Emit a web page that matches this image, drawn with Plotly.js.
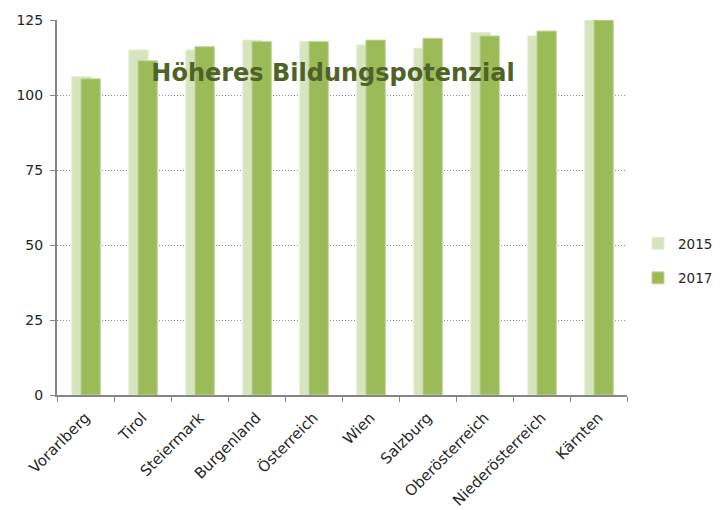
<!DOCTYPE html>
<html>
<head>
<meta charset="utf-8">
<script src="https://cdn.plot.ly/plotly-3.0.1.min.js"></script>
<style>html,body{margin:0;padding:0;background:#fff;}#chart{width:720px;height:510px;}</style>
</head>
<body>
<div id="chart"></div>
<script>
const categories = ["Vorarlberg", "Tirol", "Steiermark", "Burgenland", "Österreich", "Wien", "Salzburg", "Oberösterreich", "Niederösterreich", "Kärnten"];
const values2015 = [106.1, 115.0, 115.0, 118.3, 117.8, 116.7, 115.6, 120.8, 119.7, 125.0];
const values2017 = [105.4, 111.4, 116.1, 117.8, 117.8, 118.3, 118.9, 119.7, 121.3, 125.0];
const seriesNames = ["2015", "2017"];
const yTicks = [0, 25, 50, 75, 100, 125];
const chartTitle = "Höheres Bildungspotenzial";

const fontFamily = "DejaVu Sans, sans-serif";

const traces = [
  {
    type: "bar", name: seriesNames[0], x: categories, y: values2015,
    width: 0.34, offset: -0.24, legendgroup: "a",
    marker: {color: "#d7e4bd", line: {color: "#e4edd2", width: 1}},
    hoverinfo: "x+y+name"
  },
  {
    type: "bar", name: seriesNames[1], x: categories, y: values2017,
    width: 0.34, offset: -0.08, legendgroup: "b",
    marker: {color: "#9bbb59", line: {color: "#c3d69b", width: 1}},
    hoverinfo: "x+y+name"
  }
];

const layout = {
  width: 720, height: 510,
  margin: {l: 57, r: 93, t: 20, b: 115},
  paper_bgcolor: "#ffffff", plot_bgcolor: "#ffffff",
  barmode: "overlay",
  font: {family: fontFamily, size: 14, color: "#262626"},
  title: {
    text: "<b>" + chartTitle + "</b>",
    font: {family: fontFamily, size: 24, color: "#4f6228"},
    x: 0.4625, xanchor: "center", xref: "container",
    y: 1 - 73 / 510, yanchor: "middle", yref: "container"
  },
  xaxis: {
    type: "category",
    tickangle: -45,
    showline: true, linecolor: "#868686", linewidth: 2,
    ticks: "outside", tickson: "boundaries", ticklen: 5, tickcolor: "#868686", tickwidth: 1,
    ticklabelstandoff: 6,
    showgrid: false, zeroline: false,
    tickfont: {family: fontFamily, size: 15, color: "#262626"},
    range: [-0.5, categories.length - 0.5]
  },
  yaxis: {
    range: [0, 125],
    tickvals: yTicks,
    ticktext: yTicks.map(String),
    showline: true, linecolor: "#868686", linewidth: 2,
    ticks: "outside", ticklen: 5, tickcolor: "#868686", tickwidth: 1,
    ticklabelstandoff: 4,
    showgrid: true, gridcolor: "#8c8c8c", gridwidth: 1, griddash: "1px,2px",
    zeroline: false,
    tickfont: {family: fontFamily, size: 14, color: "#262626"}
  },
  showlegend: true,
  legend: {
    xref: "container", yref: "container",
    x: 638 / 720, xanchor: "left", y: 1 - 261 / 510, yanchor: "middle",
    traceorder: "grouped",
    tracegroupgap: 14,
    itemwidth: 30,
    font: {family: fontFamily, size: 13.5, color: "#262626"},
    bgcolor: "rgba(0,0,0,0)"
  }
};

Plotly.newPlot("chart", traces, layout, {staticPlot: true, displayModeBar: false});
</script>
</body>
</html>
